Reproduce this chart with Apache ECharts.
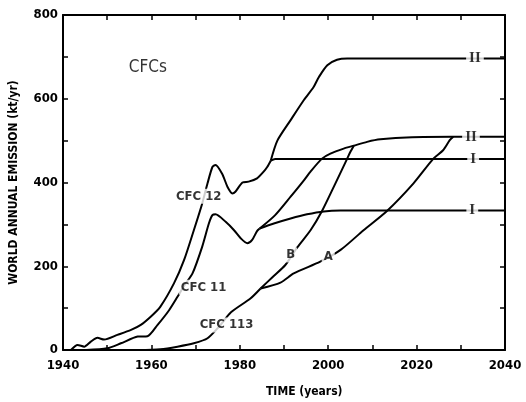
<!DOCTYPE html>
<html>
<head>
<meta charset="utf-8">
<script src="https://cdn.jsdelivr.net/npm/echarts@6/dist/echarts.min.js"></script>
<style>html,body{margin:0;padding:0;background:#fff}#c{width:526px;height:402px}</style>
</head>
<body>
<div id="c"></div>
<script>
// ---- data (year, kt/yr) ----
var cfc12Years  = [1941.8,1943.3,1944.8,1946.3,1947.8,1949.3,1952.3,1955.4,1957.6,1959.9,1962,1965.1,1967.4,1969.6,1971.5,1972.7,1973.8,1974.5,1976,1977.2,1978.3,1979,1980.6,1982,1983.9,1985.4,1986.2,1987];
var cfc12Values = [0,12,8,20,29,25,36,48,60,80,103,159,215,286,350,398,437,442,421,390,374,378,400,402,410,426,437,452];
var cfc12IYears  = [1987,1988,2040];
var cfc12IValues = [452,456,456];
var cfc12IIYears  = [1987,1988.5,1991.5,1994.5,1996.7,1997.9,1999.8,2002,2004.3,2040];
var cfc12IIValues = [452,500,549,597,628,652,680,693,696,696];

var cfc11Years  = [1945.2,1950,1953.1,1956.9,1959.1,1961.4,1964,1965.9,1967.5,1969.3,1971.5,1973,1973.8,1974.5,1976.8,1978.7,1980.2,1981.7,1982.8,1983.9,1984.5];
var cfc11Values = [0,4,16,32,33,60,95,127,155,183,247,302,322,324,306,286,267,255,263,284,290];
var cfc11IYears  = [1984.5,1987.7,1991.5,1995.2,1999,2002.8,2040];
var cfc11IValues = [290,302,314,324,331,333,333];
var cfc11IIYears  = [1984.5,1988,1991.5,1994.5,1996,1998.6,2000.5,2003.5,2005.8,2008.8,2011.8,2019,2028,2040];
var cfc11IIValues = [290,322,366,405,426,457,469,481,488,497,503,508,509,509];

var cfc113Years  = [1957,1962,1965.9,1969.6,1972.7,1975.5,1978,1982.4,1984.7];
var cfc113Values = [0,2,8,16,28,58,90,123,147];
var cfc113BYears  = [1984.7,1987.5,1990.3,1993,1996,1998.6,2001.5,2004.3,2005,2005.8];
var cfc113BValues = [147,175,203,245,286,332,395,457,473,488];
var cfc113AYears  = [1984.7,1989.2,1992.2,1998.2,2002.8,2008,2013.3,2019.3,2023.8,2026,2027.5,2028.3];
var cfc113AValues = [147,161,183,211,239,286,332,398,457,477,501,509];

// curve annotations (text, year, value)
var noteTexts  = ['CFC 12','CFC 11','CFC 113','B','A'];
var noteYears  = [1970.7,1971.8,1977.0,1991.5,2000.0];
var noteValues = [367,150,60,227,222];
var romanTexts  = ['II','II','I','I'];
var romanYears  = [2033.2,2032.3,2032.8,2032.6];
var romanValues = [696,509,456,333];
var titleText = 'CFCs';
var titleYear = 1959.2, titleValue = 675;

var xTickLabels = [1940,1960,1980,2000,2020,2040];
var yTickLabels = [0,200,400,600,800];

function zip(a,b){ return a.map(function(v,i){ return [v,b[i]]; }); }

var lineStyle = {color:'#000', width:2};
function lineSeries(name, xs, ys){
  return {name:name, type:'line', data:zip(xs,ys), showSymbol:false, symbol:'none',
          smooth:0.25, lineStyle:lineStyle, z:2, silent:true, animation:false};
}
var font = '"DejaVu Sans Condensed","DejaVu Sans",sans-serif';

var chart = echarts.init(document.getElementById('c'), null, {renderer:'canvas'});
var axisLine = {show:true, onZero:false, lineStyle:{color:'#000', width:2}};
var tick = {show:true, inside:true, length:5, lineStyle:{color:'#000', width:1.5}};
chart.setOption({
  animation:false,
  backgroundColor:'#fff',
  grid:{left:62, right:21, top:15, bottom:52, containLabel:false},
  xAxis:[
    {type:'value', min:1940, max:2040, interval:10, position:'bottom',
     axisLine:axisLine, axisTick:tick, splitLine:{show:false},
     axisLabel:{margin:9, color:'#000', fontFamily:font, fontWeight:'bold', fontSize:13,
       formatter:function(v){ return xTickLabels.indexOf(v)>=0 ? String(v) : ''; }}},
    {type:'value', min:1940, max:2040, interval:10, position:'top',
     axisLine:axisLine, axisTick:tick, splitLine:{show:false}, axisLabel:{show:false}}
  ],
  yAxis:[
    {type:'value', min:0, max:800, interval:100, position:'left',
     axisLine:axisLine, axisTick:tick, splitLine:{show:false},
     name:'WORLD ANNUAL EMISSION (kt/yr)', nameLocation:'middle', nameGap:43,
     nameTextStyle:{color:'#000', fontFamily:font, fontWeight:'bold', fontSize:12},
     axisLabel:{margin:5, color:'#000', fontFamily:font, fontWeight:'bold', fontSize:13,
       formatter:function(v){ return yTickLabels.indexOf(v)>=0 ? String(v) : ''; }}},
    {type:'value', min:0, max:800, interval:100, position:'right',
     axisLine:axisLine, axisTick:tick, splitLine:{show:false}, axisLabel:{show:false}}
  ],
  graphic:[{type:'text', left:266, top:386,
    style:{text:'TIME (years)', fill:'#000', font:'bold 12px '+font}}],
  series:[
    lineSeries('CFC 12', cfc12Years, cfc12Values),
    lineSeries('CFC 12 I', cfc12IYears, cfc12IValues),
    lineSeries('CFC 12 II', cfc12IIYears, cfc12IIValues),
    lineSeries('CFC 11', cfc11Years, cfc11Values),
    lineSeries('CFC 11 I', cfc11IYears, cfc11IValues),
    lineSeries('CFC 11 II', cfc11IIYears, cfc11IIValues),
    lineSeries('CFC 113', cfc113Years, cfc113Values),
    lineSeries('CFC 113 B', cfc113BYears, cfc113BValues),
    lineSeries('CFC 113 A', cfc113AYears, cfc113AValues),
    {type:'scatter', symbolSize:0, z:5, silent:true,
     data:noteTexts.map(function(t,i){ return {name:t, value:[noteYears[i],noteValues[i]]}; }),
     label:{show:true, position:'inside', formatter:'{b}', color:'#000',
       fontFamily:font, fontSize:13, fontWeight:'bold',
       backgroundColor:'#fff', padding:[1,2]}},
    {type:'scatter', symbolSize:0, z:5, silent:true,
     data:romanTexts.map(function(t,i){ return {name:t, value:[romanYears[i],romanValues[i]]}; }),
     label:{show:true, position:'inside', formatter:'{b}', color:'#000',
       fontFamily:'"Liberation Serif","DejaVu Serif",serif', fontSize:15, fontWeight:'bold',
       backgroundColor:'#fff', padding:[0,3]}},
    {type:'scatter', symbolSize:0, z:5, silent:true,
     data:[{name:titleText, value:[titleYear,titleValue]}],
     label:{show:true, position:'inside', formatter:'{b}', color:'#000',
       fontFamily:font, fontSize:17, fontWeight:'normal'}}
  ]
});
</script>
</body>
</html>
